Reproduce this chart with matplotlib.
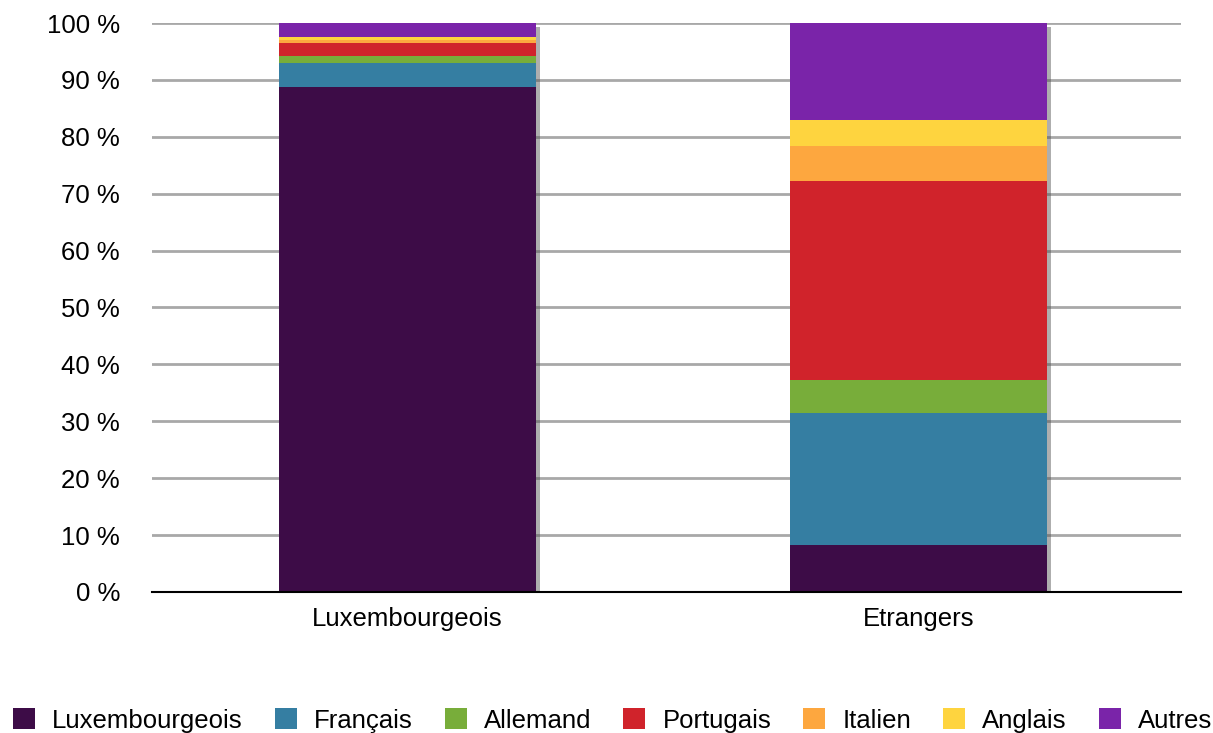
import matplotlib.pyplot as plt
import matplotlib.patheffects as pe
import numpy as np

plt.rcParams["font.family"] = ["Liberation Sans", "DejaVu Sans"]

# -----------------------------
# Data (percentages)
# -----------------------------
categories = ["Luxembourgeois", "Etrangers"]
series_names = ["Luxembourgeois", "Français", "Allemand", "Portugais",
                "Italien", "Anglais", "Autres"]
luxembourgeois = [88.8, 8.2]
francais = [4.2, 23.3]
allemand = [1.2, 5.8]
portugais = [2.3, 35.0]
italien = [0.6, 6.1]
anglais = [0.4, 4.6]
autres = [2.5, 17.0]

colors = ["#3d0c47", "#357ea2", "#78ad3a", "#d0232b",
          "#fda73f", "#fed43f", "#7a24a9"]

series = [luxembourgeois, francais, allemand, portugais, italien, anglais, autres]

FS = 18.5

fig = plt.figure(figsize=(12.13, 7.33), dpi=100)
ax = fig.add_axes([0.1253, 0.1924, 0.8483, 0.7762])

x = np.arange(len(categories))
bottom = np.zeros(len(categories))
for name, vals, col in zip(series_names, series, colors):
    ax.bar(x, vals, width=0.503, bottom=bottom, color=col,
           label=name, zorder=3, edgecolor="none")
    bottom += np.array(vals)

# soft shadow behind the full stack
for i in range(len(categories)):
    ax.bar(x[i], bottom[i], width=0.503, color="white", zorder=2,
           path_effects=[pe.SimplePatchShadow(offset=(3, -3), alpha=0.45)])

ax.set_xlim(-0.5, 1.514)
ax.set_ylim(0, 100)
ax.set_yticks(np.arange(0, 101, 10))
ax.set_yticklabels([f"{v} %" for v in range(0, 101, 10)], fontsize=FS)
ax.set_xticks(x)
ax.set_xticklabels(categories, fontsize=FS)
ax.tick_params(axis="both", length=0)
ax.tick_params(axis="y", pad=23)
ax.tick_params(axis="x", pad=11)

ax.yaxis.grid(True, color="#a8a8a8", linewidth=2, zorder=0)
for s in ["top", "right", "left"]:
    ax.spines[s].set_visible(False)
ax.spines["bottom"].set_color("black")
ax.spines["bottom"].set_linewidth(1.5)
ax.spines["bottom"].set_zorder(4)

handles, labels = ax.get_legend_handles_labels()
fig.legend(handles, labels, loc="lower center", bbox_to_anchor=(0.505, -0.031),
           ncol=7, frameon=False, fontsize=FS, handlelength=0.86,
           handleheight=0.86, handletextpad=0.66, columnspacing=1.25)

plt.savefig("out.png", dpi=100)
plt.close()
